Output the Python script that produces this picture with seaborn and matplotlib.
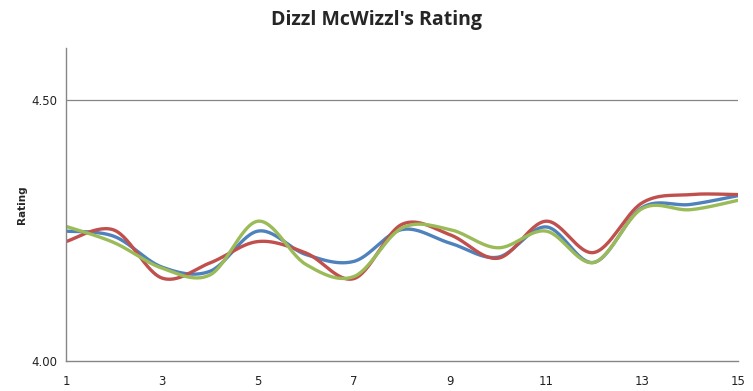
import numpy as np
import pandas as pd
import matplotlib
matplotlib.use("Agg")
import matplotlib.pyplot as plt
import seaborn as sns

# Data
episodes = list(range(1, 16))
series_blue = [4.249, 4.239, 4.180, 4.172, 4.249, 4.204, 4.191, 4.252, 4.226, 4.199, 4.257, 4.189, 4.294, 4.300, 4.317]
series_red = [4.229, 4.251, 4.159, 4.188, 4.229, 4.207, 4.158, 4.262, 4.242, 4.197, 4.268, 4.208, 4.303, 4.319, 4.319]
series_green = [4.258, 4.227, 4.178, 4.165, 4.268, 4.185, 4.162, 4.255, 4.252, 4.217, 4.249, 4.189, 4.292, 4.290, 4.308]
series_names = ["Series1", "Series2", "Series3"]
colors = ["#4F81BD", "#C0504D", "#9BBB59"]


def smooth(xs, ys, n=30):
    # Excel-style smoothed line (Catmull-Rom through the points)
    xs = np.asarray(xs, float)
    ys = np.asarray(ys, float)
    px = np.concatenate([[xs[0]], xs, [xs[-1]]])
    py = np.concatenate([[ys[0]], ys, [ys[-1]]])
    out_x, out_y = [], []
    t = np.linspace(0, 1, n, endpoint=False)
    for i in range(1, len(px) - 2):
        for p, o in ((px, out_x), (py, out_y)):
            p0, p1, p2, p3 = p[i - 1], p[i], p[i + 1], p[i + 2]
            c1 = p1 + (p2 - p0) / 6
            c2 = p2 - (p3 - p1) / 6
            o.extend((1 - t) ** 3 * p1 + 3 * (1 - t) ** 2 * t * c1 + 3 * (1 - t) * t ** 2 * c2 + t ** 3 * p2)
    out_x.append(xs[-1])
    out_y.append(ys[-1])
    return out_x, out_y


frames = []
for name, vals in zip(series_names, [series_blue, series_red, series_green]):
    sx, sy = smooth(episodes, vals)
    frames.append(pd.DataFrame({"x": sx, "Rating": sy, "series": name}))
df = pd.concat(frames, ignore_index=True)

sns.set_style("white")
fig = plt.figure(figsize=(7.53, 3.91), dpi=100)
ax = fig.add_axes([66 / 753, 1 - 361 / 391, (738 - 66) / 753, (361 - 48) / 391])

sns.lineplot(data=df, x="x", y="Rating", hue="series", palette=colors,
             linewidth=2.4, legend=False, sort=False, estimator=None, ax=ax)

ax.set_xlim(1, 15)
ax.set_ylim(4.0, 4.6)
ax.set_xticks(range(1, 16, 2))
ax.set_yticks([4.0, 4.5])
ax.set_yticklabels(["4.00", "4.50"])
ax.axhline(4.5, color="#868686", linewidth=0.9, zorder=0)
ax.tick_params(axis="both", length=0, labelsize=8.5, colors="#222222")
ax.tick_params(axis="x", pad=10)
ax.tick_params(axis="y", pad=6)
for side in ["top", "right"]:
    ax.spines[side].set_visible(False)
for side in ["left", "bottom"]:
    ax.spines[side].set_color("#868686")
    ax.spines[side].set_linewidth(1.0)

ax.set_xlabel("")
ax.set_ylabel("Rating", fontsize=7.5, fontweight="bold", labelpad=3)
fig.suptitle("Dizzl McWizzl's Rating", x=0.5, y=0.975, fontsize=14,
             fontweight="bold", family="Open Sans")

fig.savefig("out.png", dpi=100)
